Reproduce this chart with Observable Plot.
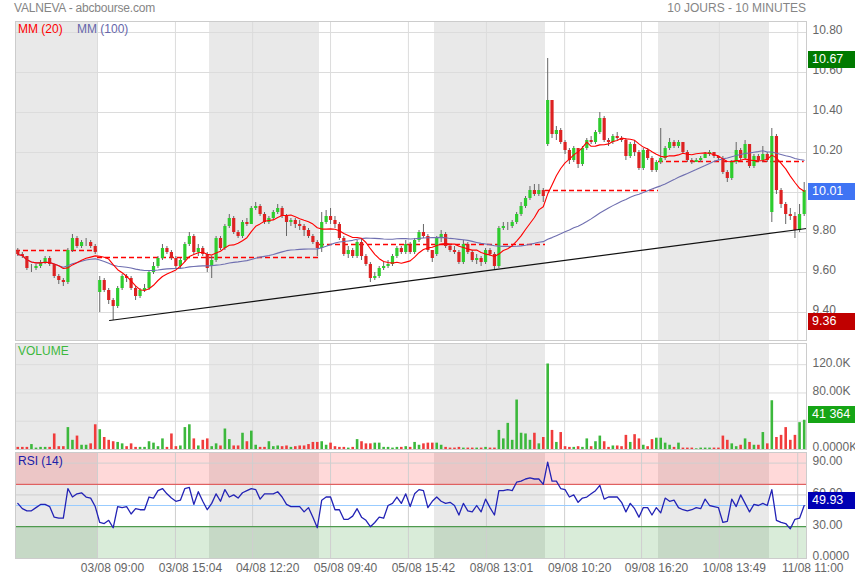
<!DOCTYPE html>
<html><head><meta charset="utf-8">
<script src="https://cdn.jsdelivr.net/npm/d3@7"></script>
<script src="https://cdn.jsdelivr.net/npm/@observablehq/plot@0.6"></script>
<style>
body{margin:0;background:#fff;font-family:Arial,"Liberation Sans",sans-serif;}
#wrap{position:relative;width:855px;height:580px;overflow:hidden;background:#fff;}
.lbl{position:absolute;font-size:12px;white-space:nowrap;line-height:14px;}
.box{position:absolute;left:808px;width:47px;height:17px;color:#fff;font-size:12.5px;line-height:17px;padding-left:4px;box-sizing:border-box;white-space:nowrap;}
</style></head>
<body><div id="wrap"></div>
<script>
// ---------- DATA ----------
const days = ["02/08","03/08","04/08","05/08","08/08","09/08","10/08","11/08"];
const dayBars = [18,25,25,26,25,26,25,8];
const dayOpen = [9.71,9.50,9.63,9.72,9.69,10.24,10.15,9.90];

const close = [
 9.69,9.68,9.62,9.62,9.63,9.65,9.67,9.64,9.58,9.56,9.55,9.71,9.77,9.73,9.75,9.75,9.73,9.70,
 9.56,9.51,9.46,9.43,9.52,9.58,9.57,9.52,9.48,9.51,9.52,9.60,9.63,9.67,9.72,9.70,9.67,9.63,9.66,9.74,9.78,9.70,9.72,9.69,9.62,
 9.66,9.77,9.72,9.83,9.87,9.80,9.78,9.85,9.84,9.92,9.93,9.89,9.85,9.87,9.90,9.92,9.88,9.85,9.86,9.84,9.83,9.81,9.78,9.75,9.72,
 9.85,9.88,9.86,9.84,9.77,9.69,9.71,9.68,9.75,9.68,9.64,9.57,9.58,9.62,9.63,9.64,9.68,9.72,9.70,9.74,9.70,9.76,9.80,9.78,9.71,9.67,
 9.77,9.79,9.73,9.71,9.70,9.65,9.74,9.70,9.66,9.67,9.65,9.71,9.69,9.63,9.82,9.83,9.83,9.85,9.89,9.93,9.97,10.01,9.99,10.01,9.98,
 10.46,10.29,10.31,10.25,10.21,10.16,10.22,10.14,10.22,10.26,10.25,10.30,10.37,10.26,10.25,10.28,10.27,10.26,10.18,10.24,10.20,10.12,10.21,10.17,10.11,10.15,
 10.17,10.22,10.25,10.23,10.25,10.20,10.16,10.15,10.16,10.17,10.19,10.20,10.18,10.17,10.10,10.07,10.15,10.21,10.17,10.24,10.13,10.18,10.16,10.19,10.16,
 10.28,10.01,9.94,9.89,9.88,9.81,9.89,10.01
];
const high = [
 9.72,9.70,9.68,9.64,9.64,9.66,9.68,9.68,9.64,9.59,9.57,9.72,9.79,9.78,9.76,9.77,9.76,9.74,
 9.58,9.57,9.52,9.47,9.53,9.59,9.59,9.58,9.53,9.52,9.54,9.61,9.65,9.68,9.74,9.73,9.71,9.68,9.67,9.75,9.80,9.79,9.74,9.73,9.70,
 9.68,9.78,9.78,9.84,9.89,9.88,9.81,9.86,9.87,9.93,9.95,9.94,9.90,9.88,9.91,9.94,9.93,9.89,9.87,9.87,9.86,9.84,9.82,9.79,9.76,
 9.90,9.91,9.92,9.88,9.85,9.78,9.73,9.72,9.76,9.77,9.69,9.65,9.60,9.63,9.65,9.66,9.69,9.73,9.73,9.76,9.75,9.77,9.81,9.84,9.79,9.71,
 9.78,9.81,9.80,9.74,9.73,9.71,9.76,9.75,9.71,9.69,9.68,9.72,9.72,9.70,9.83,9.85,9.85,9.86,9.90,9.95,9.98,10.03,10.04,10.04,10.02,
 10.67,10.46,10.33,10.32,10.26,10.22,10.23,10.22,10.23,10.27,10.28,10.31,10.40,10.38,10.27,10.29,10.30,10.28,10.27,10.25,10.26,10.21,10.22,10.22,10.18,10.16,
 10.32,10.23,10.27,10.26,10.26,10.25,10.21,10.17,10.17,10.18,10.20,10.21,10.20,10.18,10.18,10.11,10.16,10.25,10.22,10.26,10.24,10.19,10.19,10.23,10.20,
 10.32,10.29,10.02,9.95,9.92,9.90,9.94,10.05
];
const low = [
 9.68,9.67,9.61,9.60,9.61,9.62,9.64,9.63,9.57,9.54,9.53,9.54,9.70,9.72,9.72,9.73,9.72,9.69,
 9.40,9.50,9.44,9.36,9.42,9.51,9.55,9.51,9.46,9.47,9.50,9.51,9.59,9.62,9.66,9.69,9.66,9.62,9.62,9.65,9.73,9.69,9.68,9.68,9.60,
 9.57,9.65,9.71,9.71,9.82,9.79,9.77,9.77,9.83,9.84,9.91,9.88,9.84,9.84,9.86,9.89,9.87,9.78,9.83,9.82,9.81,9.78,9.77,9.74,9.68,
 9.70,9.84,9.84,9.82,9.76,9.68,9.67,9.67,9.67,9.66,9.63,9.55,9.56,9.57,9.61,9.62,9.63,9.67,9.69,9.69,9.69,9.69,9.75,9.77,9.70,9.65,
 9.68,9.75,9.72,9.70,9.69,9.64,9.64,9.69,9.65,9.64,9.63,9.64,9.68,9.61,9.62,9.81,9.81,9.82,9.84,9.88,9.92,9.96,9.98,9.98,9.95,
 10.23,10.27,10.26,10.24,10.19,10.14,10.15,10.12,10.13,10.21,10.24,10.24,10.29,10.25,10.23,10.24,10.26,10.25,10.16,10.17,10.18,10.11,10.11,10.16,10.10,10.10,
 10.14,10.16,10.21,10.22,10.22,10.19,10.15,10.14,10.15,10.15,10.17,10.18,10.17,10.16,10.09,10.05,10.06,10.14,10.16,10.16,10.12,10.12,10.15,10.15,10.15,
 9.85,9.99,9.92,9.84,9.86,9.77,9.80,9.88
];
// volume in thousands
const volume = [
 3,3,3,7,2,3,3,3,22,4,4,31,13,19,6,6,8,35,
 28,17,13,11,10,8,4,8,3,3,3,11,9,4,15,3,22,4,5,31,35,15,5,13,15,
 4,8,5,29,14,5,5,23,11,26,6,3,3,11,4,5,4,5,3,4,5,5,7,10,10,
 11,6,9,4,3,3,2,3,14,11,8,8,9,9,3,3,2,3,3,4,3,10,6,8,9,9,
 9,6,3,2,2,3,2,2,2,2,2,3,2,2,27,15,37,13,70,23,22,13,23,8,17,
 121,27,10,24,4,3,3,4,3,15,4,11,19,11,3,5,5,4,20,10,21,15,6,4,14,16,
 16,9,6,3,9,2,2,2,1,2,2,2,2,2,19,13,8,4,6,15,10,6,6,24,8,
 69,17,20,31,13,20,38,41.364
];
const rsi = [
 52,47,45,45,48,51,51,49,39,38,38,66,58,61,62,58,57,49,
 34,33,36,29,49,48,49,42,47,46,46,58,57,64,66,61,57,54,55,66,67,51,63,54,46,
 52,61,54,65,58,60,57,62,64,66,65,56,61,61,61,63,58,51,49,49,49,44,48,39,29,
 55,58,58,46,46,37,37,40,47,39,36,30,34,39,38,50,52,58,52,61,49,61,65,64,48,54,
 58,54,52,53,50,41,52,45,44,50,44,56,48,41,64,64,65,64,72,73,75,76,75,75,70,
 91,73,73,66,65,58,60,53,57,58,61,64,69,56,58,58,58,53,44,52,47,39,48,48,41,48,
 43,57,54,55,48,46,45,46,48,47,56,50,49,48,34,35,56,49,60,52,44,51,50,52,50,
 65,36,34,33,28,37,38,49.93
];
// reference (dashed) levels: [from bar, to bar, price]
const refLevels = [[-0.5,17.5,9.71],[17.5,67.5,9.675],[67.5,118.5,9.74],[118.5,144.5,10.01],[144.5,177,10.155]];
// trend line: [bar, price]
const trend = [[20.2,9.36],[177.5,9.82]];
// x tick positions (bar index) and labels
const tickPos = [17.5,34.9,52.3,70.0,87.6,105.2,122.9,140.6,158.2,175.6];
const tickLabels = ["03/08 09:00","03/08 15:04","04/08 12:20","05/08 09:40","05/08 15:42","08/08 13:01","09/08 10:20","09/08 16:20","10/08 13:49","11/08 11:00"];
const priceTicks = [9.4,9.6,9.8,10.0,10.2,10.4,10.6,10.8];
const volGrid = [40,80,120];
const volTicks = [0,80,120];
const volTickLabels = ["0.0000K","80.00K","120.0K"];
const rsiTicks = [0,30,60,90];
const rsiTickLabels = ["0.0000","30.00","60.00","90.00"];
const lastPrice = 10.01, dayHigh = 10.67, dayLow = 9.36, lastVol = 41.364, lastRsi = 49.93;

// ---------- LAYOUT ----------
const dayEdgeX = [15,97,209,319,434,545,658,769,806];

// ---------- BUILD ----------
const bars = [];
const edges = [-0.5];
let n = 0;
dayBars.forEach((cnt, k) => {
  for (let j = 0; j < cnt; j++, n++) {
    const open = j === 0 ? dayOpen[k] : close[n - 1];
    bars.push({i: n, open, close: close[n], high: high[n], low: low[n], vol: volume[n], rsi: rsi[n], up: close[n] >= open});
  }
  edges.push(edges[k] + cnt);
});
const shade = days.map((d, k) => ({x1: edges[k], x2: edges[k + 1], k})).filter(d => d.k % 2 === 0);
const xMin = edges[0], xMax = edges[edges.length - 1];

const wrap = document.getElementById("wrap");
const GRID = "#dcdcdc";
const style = {fontFamily: "Arial, 'Liberation Sans', sans-serif", fontSize: "12px", color: "#666", overflow: "visible", background: "transparent"};

function panel(top, height, ydomain, marks, marginBottom = 0) {
  const p = Plot.plot({
    width: 855, height: height + marginBottom,
    marginLeft: 15, marginRight: 49, marginTop: 0, marginBottom,
    x: {type: "linear", domain: edges, range: dayEdgeX, axis: null},
    y: {domain: ydomain, axis: null},
    style,
    marks
  });
  p.style.position = "absolute"; p.style.left = "0px"; p.style.top = top + "px";
  wrap.appendChild(p);
  return p;
}
const shadeMark = (y1, y2) => Plot.rect(shade, {x1: "x1", x2: "x2", y1: () => y1, y2: () => y2, fill: "#e9e9e9"});

// Price panel
const pTop = 21, pDom = [9.26, 10.855];
const price = panel(pTop, 319, pDom, [
  shadeMark(pDom[0], pDom[1]),
  Plot.gridY(priceTicks, {stroke: GRID, strokeOpacity: 1}),
  Plot.gridX(tickPos, {stroke: GRID, strokeOpacity: 1}),
  ...refLevels.map(r => Plot.ruleY([r[2]], {x1: r[0], x2: r[1], stroke: "#ff0000", strokeOpacity: 1, strokeDasharray: "5,3", strokeWidth: 1.5})),
  Plot.ruleX(bars, {x: "i", y1: "low", y2: "high", stroke: "#666", strokeWidth: 1}),
  Plot.ruleX(bars, {x: "i", y1: "open", y2: "close", stroke: d => d.up ? "#2ecc2e" : "#dd2222", strokeWidth: 3.2}),
  Plot.line(bars, Plot.windowY({k: 50, anchor: "end", reduce: "mean"}, {x: "i", y: "close", stroke: "#6f6fb0", strokeWidth: 1.1})),
  Plot.line(bars, Plot.windowY({k: 10, anchor: "end", reduce: "mean"}, {x: "i", y: "close", stroke: "#ff0000", strokeWidth: 1.1})),
  Plot.line(trend, {x: d => d[0], y: d => d[1], stroke: "#111", strokeWidth: 1.2}),
  Plot.axisY(priceTicks, {anchor: "right", label: null, tickSize: 0, tickPadding: 6, dy: -2, tickFormat: d => d.toFixed(2), fill: "#666"}),
  Plot.frame({stroke: "#cccccc"})
]);

// Volume panel
const vTop = 343, vDom = [0, 150];
const vol = panel(vTop, 106, vDom, [
  shadeMark(vDom[0], vDom[1]),
  Plot.gridY(volGrid, {stroke: GRID, strokeOpacity: 1}),
  Plot.gridX(tickPos, {stroke: GRID, strokeOpacity: 1}),
  Plot.ruleX(bars, {x: "i", y1: () => 0, y2: "vol", stroke: d => d.up ? "#3cb83c" : "#f03c3c", strokeWidth: 2.6}),
  Plot.axisY(volTicks, {anchor: "right", label: null, tickSize: 0, tickPadding: 6, dy: -2, tickFormat: d => volTickLabels[volTicks.indexOf(d)], fill: "#666"}),
  Plot.frame({stroke: "#cccccc"})
]);

// RSI panel
const rTop = 452, rDom = [0, 100];
const rsiP = panel(rTop, 106, rDom, [
  shadeMark(rDom[0], rDom[1]),
  Plot.rect([[70, 100]], {x1: () => xMin, x2: () => xMax, y1: d => d[0], y2: d => d[1], fill: "#ff0000", fillOpacity: 0.15}),
  Plot.rect([[0, 30]], {x1: () => xMin, x2: () => xMax, y1: d => d[0], y2: d => d[1], fill: "#008000", fillOpacity: 0.15}),
  Plot.gridY([60, 90], {stroke: "#cfcfcf", strokeOpacity: 1}),
  Plot.gridX(tickPos, {stroke: "#cfcfcf", strokeOpacity: 1}),
  Plot.ruleY([70], {stroke: "#e06060", strokeWidth: 1.2}),
  Plot.ruleY([50], {stroke: "#99ccff", strokeWidth: 1.2}),
  Plot.ruleY([30], {stroke: "#4f9a4f", strokeWidth: 1.2}),
  Plot.line(bars, {x: "i", y: "rsi", stroke: "#2323b5", strokeWidth: 1.3}),
  Plot.axisY(rsiTicks, {anchor: "right", label: null, tickSize: 0, tickPadding: 6, dy: -2, tickFormat: d => rsiTickLabels[rsiTicks.indexOf(d)], fill: "#666"}),
  Plot.axisX(tickPos, {anchor: "bottom", label: null, tickSize: 0, tickPadding: 5, dx: 15, tickFormat: d => tickLabels[tickPos.indexOf(d)], fill: "#666"}),
  Plot.frame({stroke: "#cccccc"})
], 22);

// ---------- TEXT OVERLAYS ----------
function label(text, left, top, color, extra = "") {
  const d = document.createElement("div");
  d.className = "lbl"; d.textContent = text;
  d.style.cssText += `left:${left}px;top:${top}px;color:${color};${extra}`;
  wrap.appendChild(d);
}
label("VALNEVA - abcbourse.com", 14, 1, "#858585", "letter-spacing:-0.2px");
label("10 JOURS - 10 MINUTES", 0, 1, "#858585", "left:auto;right:49px;");
label("MM (20)", 18, 22, "#ff0000");
label("MM (100)", 77, 22, "#6666aa");
label("VOLUME", 18, 344, "#3cb83c");
label("RSI (14)", 18, 454, "#2020a8");

function box(text, plot, top, value, bg, shift) {
  const y = plot.scale("y").apply(value) + top + shift;
  const d = document.createElement("div");
  d.className = "box"; d.textContent = text;
  d.style.top = (y - 8.5) + "px"; d.style.background = bg;
  wrap.appendChild(d);
}
box(dayHigh.toFixed(2), price, pTop, dayHigh, "#007a00", 1);
box(dayLow.toFixed(2), price, pTop, dayLow, "#c00000", 1.5);
box(lastPrice.toFixed(2), price, pTop, lastPrice, "#3f74f4", 1);
box("41 364", vol, vTop, lastVol, "#16a516", -5);
box(lastRsi.toFixed(2), rsiP, rTop, lastRsi, "#0000b4", -5);
</script>
</body></html>
